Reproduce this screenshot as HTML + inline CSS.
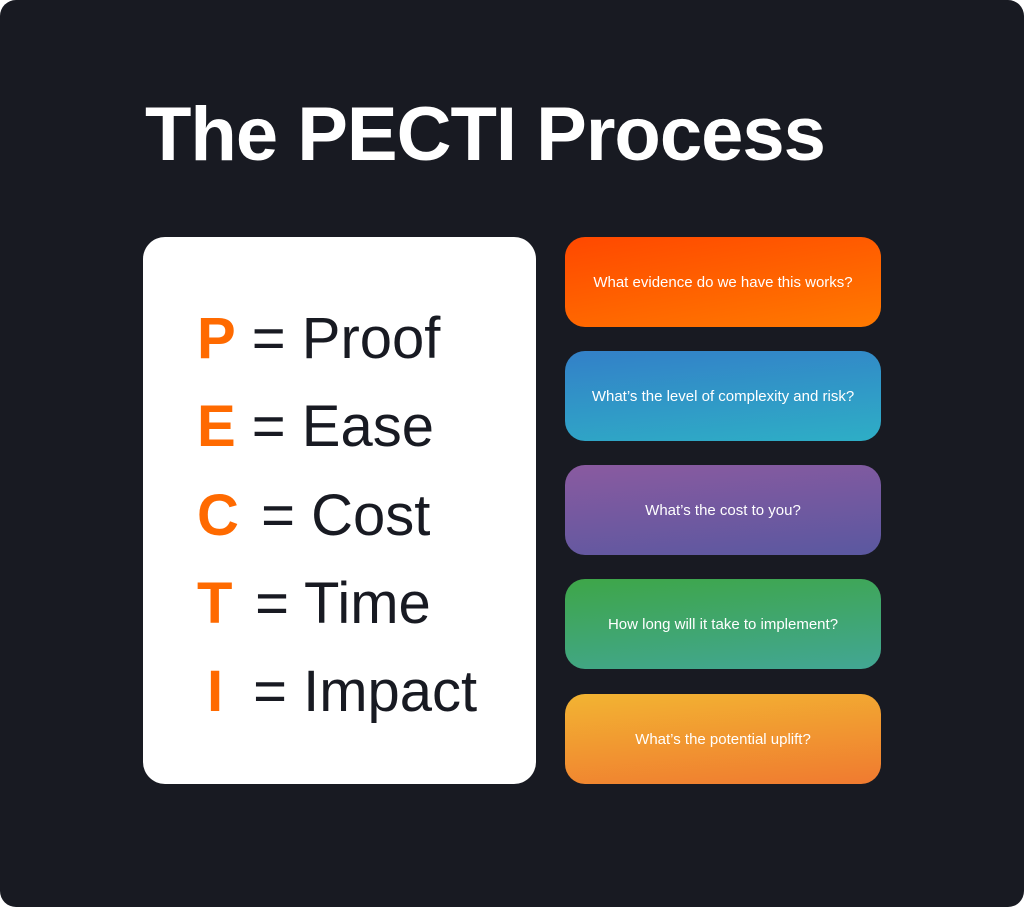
<!DOCTYPE html>
<html><head><meta charset="utf-8"><style>
html,body{margin:0;padding:0;background:#fff;}
#pg{position:relative;width:1024px;height:907px;background:#181a22;border-radius:16px;overflow:hidden;font-family:"Liberation Sans",sans-serif;}
.t{position:absolute;left:145px;top:87px;font-size:76px;font-weight:bold;color:#fff;letter-spacing:-1px;white-space:nowrap;line-height:96px;}
.card{position:absolute;left:143px;top:237px;width:393px;height:547px;background:#fff;border-radius:22px;}
.ln{position:absolute;font-size:58px;color:#181a22;white-space:nowrap;line-height:70px;}
.ln b{color:#ff6a00;display:inline-block;}
.bx{position:absolute;left:565px;width:316px;height:90px;border-radius:20px;color:#fff;font-size:15px;display:flex;align-items:center;justify-content:center;text-align:center;}
</style></head><body><div id="pg">
<div class="t">The PECTI Process</div>
<div class="card"></div>
<div class="ln" style="left:197px;top:304px"><b>P</b> = Proof</div>
<div class="ln" style="left:197px;top:392px"><b>E</b> = Ease</div>
<div class="ln" style="left:197px;top:481px"><b style="width:48px">C</b> = Cost</div>
<div class="ln" style="left:197px;top:569px"><b style="width:42px">T</b> = Time</div>
<div class="ln" style="left:207px;top:657px"><b style="width:30px">I</b> = Impact</div>
<div class="bx" style="top:237px;background:linear-gradient(170deg,#ff4800,#ff7a00)">What evidence do we have this works?</div>
<div class="bx" style="top:351px;background:linear-gradient(175deg,#3380c8,#2eaec6)">What’s the level of complexity and risk?</div>
<div class="bx" style="top:465px;background:linear-gradient(175deg,#8a5aa0,#5a58a0)">What’s the cost to you?</div>
<div class="bx" style="top:579px;background:linear-gradient(175deg,#3ea648,#42a694)">How long will it take to implement?</div>
<div class="bx" style="top:694px;background:linear-gradient(175deg,#f2b432,#f07a30)">What’s the potential uplift?</div>
</div></body></html>
